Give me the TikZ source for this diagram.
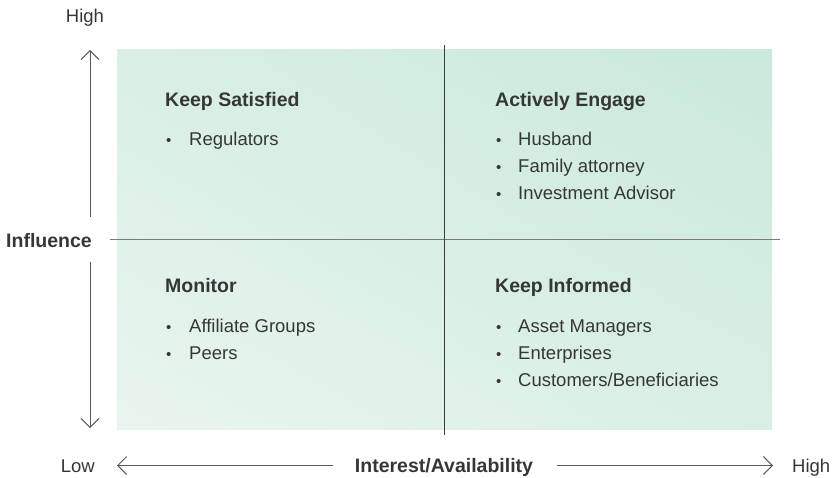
\documentclass[tikz,border=0pt]{standalone}
\usepackage{fontspec}
\setmainfont{Liberation Sans}
\usetikzlibrary{%
	arrows.meta,%
	shadings,%
	positioning
}
\definecolor{ink}{HTML}{363636}
\definecolor{axisgray}{HTML}{5A5A5A}
\definecolor{gridgray}{HTML}{7A7A7A}
\definecolor{griddark}{HTML}{3C3C3C}
\definecolor{greenlo}{HTML}{E8F5EE}
\definecolor{greenmid}{HTML}{DAEFE4}
\definecolor{greenhi}{HTML}{C9E9DA}
\tikzset{
	axis/.style={axisgray, line width=0.9pt, -{Straight Barb[length=9pt,width=18pt,line width=0.9pt]}},
	divider/.style={gridgray, line width=1pt},
	heading/.style={anchor=base west, inner sep=0pt, text=ink, font=\fontsize{19.5}{23}\selectfont\bfseries},
	item/.style={anchor=base west, inner sep=0pt, text=ink, font=\fontsize{18.5}{22}\selectfont},
	dot/.style={anchor=base west, inner sep=0pt, text=ink, font=\fontsize{15}{18}\selectfont},
	label/.style={inner sep=0pt, text=ink, font=\fontsize{18.5}{22}\selectfont}
}

\begin{document}
\begin{tikzpicture}[x=1pt, y=-1pt]
	\useasboundingbox (0,0) rectangle (835,478);
	% Background
	\shade[lower left=greenlo, upper right=greenhi, upper left=greenmid, lower right=greenmid] (117,50) rectangle (772,429);
	% Lines
	\coordinate (divtop) at (444,45);
	\coordinate (divbot) at (444,435);
	\coordinate (divleft) at (110,240);
	\coordinate (divright) at (780,240);
	\draw[divider] (divleft) -- (divright);
	\draw[divider, griddark, line width=0.8pt] (divtop) -- (divbot);
	% Axis labels
	\node[label, anchor=base] (yhigh) at (85,23) {High};
	\node[label, anchor=base west, font=\fontsize{19.5}{23}\selectfont\bfseries] (ylabel) at (6,248) {Influence};
	\node[label, anchor=base east] (xlow) at (95,472.7) {Low};
	\node[label, anchor=base, font=\fontsize{19.5}{23}\selectfont\bfseries] (xlabel) at (444,472.7) {Interest/Availability};
	\node[label, anchor=base west] (xhigh) at (792,472.7) {High};
	% Axes
	\coordinate (ytip) at (90,50);
	\coordinate (yupper) at (90,217);
	\coordinate (ylower) at (90,262);
	\coordinate (ybot) at (90,428);
	\coordinate (xtipl) at (117,465.5);
	\coordinate (xleft) at (333,465.5);
	\coordinate (xright) at (557,465.5);
	\coordinate (xtipr) at (773,465.5);
	\draw[axis] (yupper) -- (ytip);
	\draw[axis] (ylower) -- (ybot);
	\draw[axis] (xleft) -- (xtipl);
	\draw[axis] (xright) -- (xtipr);
	% Keep Satisfied
	\node[heading] (satisfied) at (165,106.7) {Keep Satisfied};
	\node[dot] (s1dot) at (166,146) {•};
	\node[item] (s1) at (189,146) {Regulators};
	% Actively Engage
	\node[heading] (engage) at (495,106.7) {Actively Engage};
	\node[dot] (e1dot) at (496,146) {•};
	\node[item] (e1) at (518,146) {Husband};
	\node[dot] (e2dot) at (496,173) {•};
	\node[item] (e2) at (518,173) {Family attorney};
	\node[dot] (e3dot) at (496,200) {•};
	\node[item] (e3) at (518,200) {Investment Advisor};
	% Monitor
	\node[heading] (monitor) at (165,292.5) {Monitor};
	\node[dot] (m1dot) at (166,332) {•};
	\node[item] (m1) at (189,332) {Affiliate Groups};
	\node[dot] (m2dot) at (166,359) {•};
	\node[item] (m2) at (189,359) {Peers};
	% Keep Informed
	\node[heading] (informed) at (495,292.5) {Keep Informed};
	\node[dot] (i1dot) at (496,332) {•};
	\node[item] (i1) at (518,332) {Asset Managers};
	\node[dot] (i2dot) at (496,359) {•};
	\node[item] (i2) at (518,359) {Enterprises};
	\node[dot] (i3dot) at (496,386) {•};
	\node[item] (i3) at (518,386) {Customers/Beneficiaries};
\end{tikzpicture}
\end{document}
